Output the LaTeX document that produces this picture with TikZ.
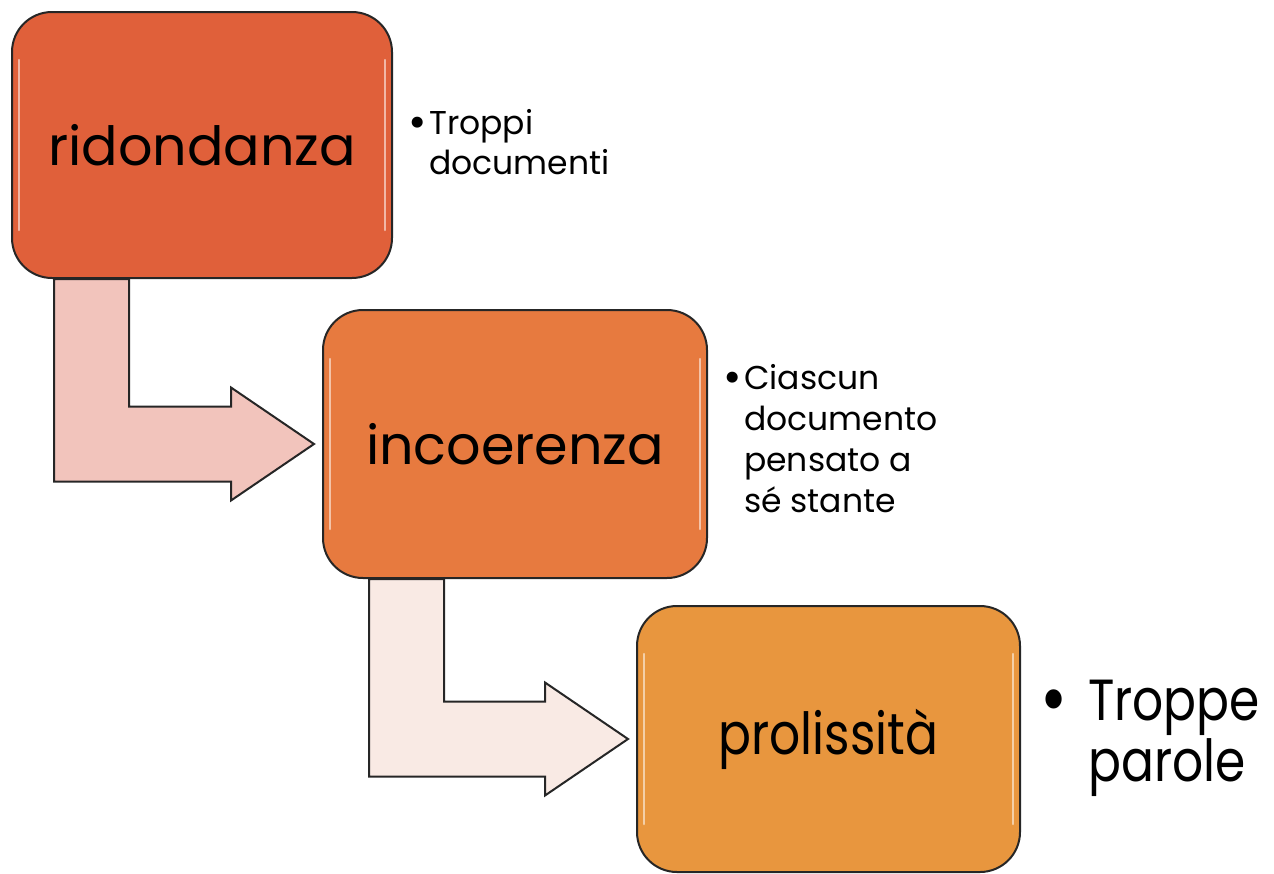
\documentclass[tikz,border=0pt]{standalone}
\usepackage{fontspec}
\setmainfont{Poppins}
\newfontfamily\narrowfont[FakeStretch=0.84]{Poppins}
\usetikzlibrary{calc}
\definecolor{cA}{RGB}{224,96,58}
\definecolor{cB}{RGB}{231,122,63}
\definecolor{cC}{RGB}{232,150,62}
\definecolor{aA}{RGB}{242,196,188}
\definecolor{aB}{RGB}{249,234,228}
\newcommand{\bul}[1]{\makebox[#1][l]{\raisebox{-0.09em}{\scalebox{1.35}{\textbullet}}}}
\tikzset{
  stagebox/.style={draw=black!85, line width=2pt, rounded corners=40pt,
    inner sep=0pt, font=\fontsize{54}{60}\selectfont},
  bentarrow/.style={draw=black!85, line width=2pt, line join=miter},
  gloss/.style={draw=white, line width=2.5pt, opacity=0.55, line cap=round},
  bullettext/.style={anchor=north west, align=left, inner sep=0pt}
}
\begin{document}
\begin{tikzpicture}[x=1pt,y=-1pt]
\useasboundingbox (0,0) rectangle (1274,873);
\node[stagebox, fill=cA, minimum width=380pt, minimum height=266pt] (b1) at (202,145) {ridondanza};
\node[stagebox, fill=cB, minimum width=384pt, minimum height=268pt] (b2) at (515,444) {incoerenza};
\node[stagebox, fill=cC, minimum width=383pt, minimum height=266pt, font=\narrowfont\fontsize{58}{60}\selectfont] (b3) at (828.5,739) {prolissità};
% gloss highlights
\foreach \b in {b1,b2,b3}{
  \draw[gloss] ($(\b.west)+(8,-85)$) -- ($(\b.west)+(8,85)$);
  \draw[gloss] ($(\b.east)+(-8,-85)$) -- ($(\b.east)+(-8,85)$);
}
% bent arrows
\draw[bentarrow, fill=aA] let \p1=(b1.south west), \p2=($(b2.west)+(-8,0)$) in
  (\x1+43pt,\y1) -- (\x1+43pt,\y2-37.5pt) -- (\x2-83pt,\y2-37.5pt) -- (\x2-83pt,\y2-56.5pt)
  -- (\x2,\y2) -- (\x2-83pt,\y2+56.5pt) -- (\x2-83pt,\y2+37.5pt) -- (\x1+118pt,\y2+37.5pt)
  -- (\x1+118pt,\y1) -- cycle;
\draw[bentarrow, fill=aB] let \p1=(b2.south west), \p2=($(b3.west)+(-8,0)$) in
  (\x1+47pt,\y1) -- (\x1+47pt,\y2-37.5pt) -- (\x2-83pt,\y2-37.5pt) -- (\x2-83pt,\y2-56.5pt)
  -- (\x2,\y2) -- (\x2-83pt,\y2+56.5pt) -- (\x2-83pt,\y2+37.5pt) -- (\x1+122pt,\y2+37.5pt)
  -- (\x1+122pt,\y1) -- cycle;
% bullet texts
\node[bullettext, font=\fontsize{33}{40}\selectfont] (t1) at (408,109)
  {\bul{21pt}Troppi\\\hspace*{21pt}documenti};
\node[bullettext, font=\fontsize{33}{41}\selectfont] (t2) at (723,364)
  {\bul{21pt}Ciascun\\\hspace*{21pt}documento\\\hspace*{21pt}pensato a\\\hspace*{21pt}sé stante};
\node[bullettext, font=\narrowfont\fontsize{58}{61}\selectfont] (t3) at (1040,680)
  {\bul{48pt}Troppe\\\hspace*{48pt}parole};
\end{tikzpicture}
\end{document}
